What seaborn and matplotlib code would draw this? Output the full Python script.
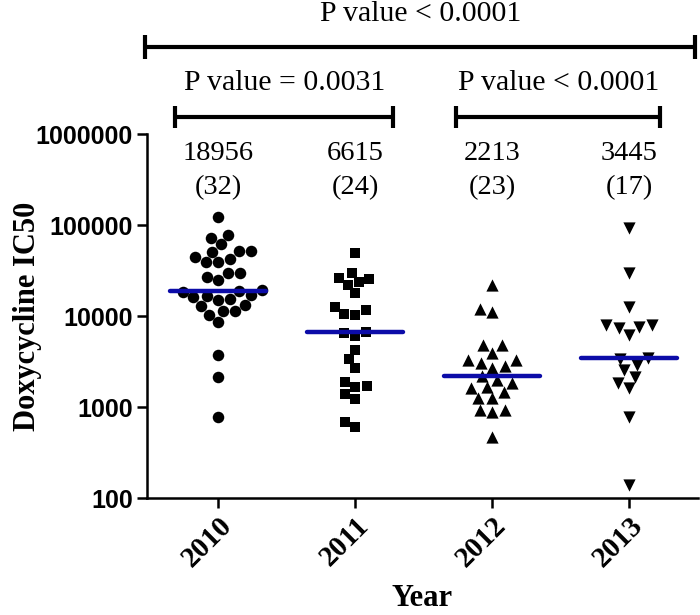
"""
Doxycycline IC50 by year — scatter with medians and p-value brackets
"""

import numpy as np
import pandas as pd
import matplotlib
matplotlib.use('Agg')
import matplotlib.pyplot as plt
import seaborn as sns
from matplotlib.ticker import FixedLocator, NullLocator


# ── Data ──────────────────────────────────────────────────────────────────────
YEARS   = ['2010', '2011', '2012', '2013']
MARKERS = ['o', 's', '^', 'v']

IC50_2010 = [122000, 77700, 71900, 61800, 51800, 51800, 50500, 44500, 42300,
             39200, 39200, 29700, 29700, 26800, 24900, 19200, 18700, 18400,
             17000, 16600, 16200, 15400, 15000, 13200, 12900, 11300, 11300,
             10300, 8600, 3730, 2140, 776]
IC50_2011 = [49200, 29700, 26200, 25500, 23600, 21900, 17900, 12600, 11600,
             10500, 10300, 6700, 6530, 6030, 4230, 3370, 2680, 1880, 1700,
             1660, 1390, 1220, 684, 603]
IC50_2012 = [21900, 11900, 11100, 4800, 4800, 3920, 3290, 3290, 3050, 2820,
             2680, 2213, 1980, 1830, 1660, 1620, 1460, 1260, 1260, 927, 927,
             881, 468]
IC50_2013 = [92700, 29700, 12600, 7960, 7960, 7570, 7380, 6180, 3445, 3400,
             2900, 2550, 2140, 1830, 1620, 776, 139]

MEDIANS = [18956, 6615, 2213, 3445]
COUNTS  = [32, 24, 23, 17]

Y_TICKS       = [100, 1000, 10000, 100000, 1000000]
Y_TICK_LABELS = ['100', '1000', '10000', '100000', '1000000']

P_TEXTS = ['P value < 0.0001', 'P value = 0.0031', 'P value < 0.0001']

SERIF = 'Liberation Serif'
SANS  = 'Liberation Sans'
BLUE  = '#0c0ca8'


# ── Build frame ───────────────────────────────────────────────────────────────
df = pd.concat([
    pd.DataFrame({'year': y, 'ic50': vals})
    for y, vals in zip(YEARS, [IC50_2010, IC50_2011, IC50_2012, IC50_2013])
], ignore_index=True)


# ── Plot ──────────────────────────────────────────────────────────────────────
sns.set_style('ticks', {'axes.edgecolor': 'black', 'text.color': 'black',
                        'axes.labelcolor': 'black', 'xtick.color': 'black',
                        'ytick.color': 'black'})
plt.rcParams['font.family'] = [SERIF, 'DejaVu Serif']

fig = plt.figure(figsize=(7, 6.15), dpi=100)
ax = fig.add_axes([0.21, 0.19, 0.787, 0.592])
ax.set_yscale('log')

sizes = [8.3, 7.8, 8.8, 8.8]
for year, mk, sz in zip(YEARS, MARKERS, sizes):
    sns.swarmplot(data=df[df['year'] == year], x='year', y='ic50',
                  order=YEARS, marker=mk, size=sz, color='black',
                  linewidth=0, ax=ax, zorder=3)

# median lines
for i, med in enumerate(MEDIANS):
    ax.hlines(med, i - 0.35, i + 0.35, color=BLUE, lw=3.2, zorder=5,
              capstyle='round')

ax.set_xlim(-0.52, 3.5)
ax.set_ylim(100, 1000000)
ax.yaxis.set_major_locator(FixedLocator(Y_TICKS))
ax.yaxis.set_minor_locator(NullLocator())
ax.set_yticklabels(Y_TICK_LABELS, fontfamily=SANS, fontweight='bold',
                   fontsize=18)
ax.set_xticks(range(len(YEARS)))
ax.set_xticklabels(YEARS, rotation=45, ha='right', rotation_mode='anchor',
                   fontweight='bold', fontsize=21)

for side in ('top', 'right'):
    ax.spines[side].set_visible(False)
for side in ('left', 'bottom'):
    ax.spines[side].set_linewidth(1.8)
ax.tick_params(axis='both', width=1.8, length=7, pad=3, colors='black')

ax.set_xlabel('Year', fontweight='bold', fontsize=22, labelpad=8)
ax.set_ylabel('Doxycycline IC50', fontweight='bold', fontsize=22)
ax.yaxis.set_label_coords(-0.19, 0.5)

# median / n annotations
for i, (med, n) in enumerate(zip(MEDIANS, COUNTS)):
    ax.text(i, 10 ** 5.79, f'{med}', ha='center', va='center', fontsize=20.5)
    ax.text(i, 10 ** 5.41, f'({n})', ha='center', va='center', fontsize=20.5)


def bracket(x0, x1, ylog, cap, label, text_ylog):
    kw = dict(color='black', lw=3, clip_on=False, solid_capstyle='butt')
    ax.plot([x0, x1], [10 ** ylog, 10 ** ylog], **kw)
    for x in (x0, x1):
        ax.plot([x, x], [10 ** (ylog - cap), 10 ** (ylog + cap)], **kw)
    ax.text((x0 + x1) / 2, 10 ** text_ylog, label, ha='center', va='center',
            fontsize=21.5, clip_on=False)


bracket(-0.533, 3.48, 6.956, 0.13, P_TEXTS[0], 7.32)
bracket(-0.314, 1.277, 6.187, 0.12, P_TEXTS[1], 6.56)
bracket(1.737, 3.226, 6.187, 0.12, P_TEXTS[2], 6.56)

plt.savefig('out.png', dpi=100)
plt.close()
